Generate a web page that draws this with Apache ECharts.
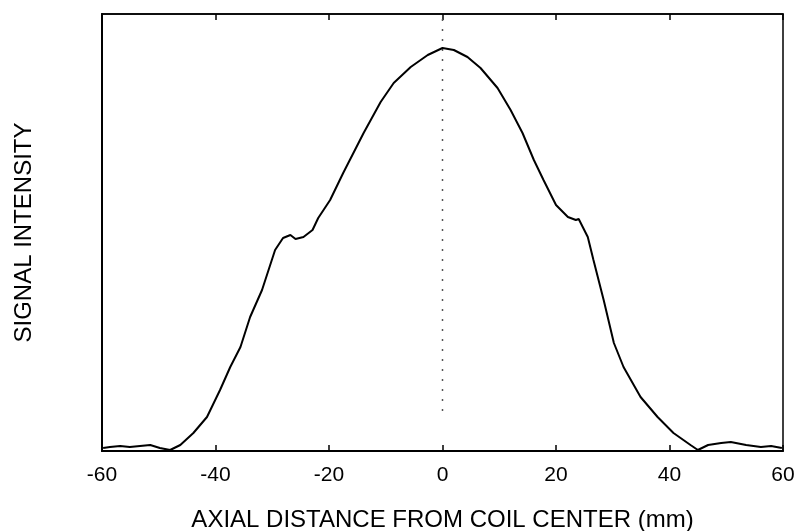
<!DOCTYPE html>
<html>
<head>
<meta charset="utf-8">
<script src="https://cdn.jsdelivr.net/npm/echarts@6/dist/echarts.min.js"></script>
<style>
html, body { margin: 0; padding: 0; background: #fff; }
#chart { width: 801px; height: 531px; }
</style>
</head>
<body>
<div id="chart"></div>
<script>
// axial position (mm) and signal intensity (arbitrary units, 0..437 full scale)
var positions = [-59.8, -58.6, -56.8, -55.1, -53.3, -51.5, -49.8, -48.0, -46.2, -43.9,
	-41.5, -39.2, -37.4, -35.6, -33.9, -31.8, -29.5, -28.1, -26.8, -25.9,
	-24.5, -22.9, -21.9, -19.8, -17.5, -13.9, -10.9, -8.6, -5.6, -2.6,
	0.0, 2.0, 4.4, 6.7, 9.7, 12.0, 14.1, 16.1, 17.8, 20.0,
	22.1, 23.5, 24.0, 25.6, 26.6, 28.4, 30.2, 31.9, 34.9, 37.9,
	40.7, 43.7, 45.0, 46.8, 49.1, 50.8, 53.5, 56.1, 57.9, 59.8];
var intensity = [3, 4, 5, 4, 5, 6, 3, 1, 6, 18,
	34, 61, 84, 104, 134, 161, 201, 213, 216, 212,
	214, 221, 233, 251, 278, 318, 349, 368, 384, 396,
	403, 401, 394, 383, 363, 341, 318, 291, 271, 246,
	234, 231, 232, 214, 191, 151, 108, 84, 54, 34,
	18, 6, 1, 6, 8, 9, 6, 4, 5, 3];
var xTicks = [-60, -40, -20, 0, 20, 40, 60];
// dotted centre marker at x = 0
var centerLine = [[0, 40], [0, 437]];

var seriesData = [];
for (var i = 0; i < positions.length; i++) {
	seriesData.push([positions[i], intensity[i]]);
}

var font = 'Liberation Sans, Arial, sans-serif';
var option = {
	animation : false,
	backgroundColor : '#fff',
	grid : {
		left : 102,
		right : 18,
		top : 14,
		bottom : 80,
		outerBoundsMode : 'none',
		show : true,
		borderColor : '#000',
		borderWidth : 1.5
	},
	xAxis : [ {
		type : 'value',
		min : xTicks[0],
		max : xTicks[xTicks.length - 1],
		interval : 20,
		name : 'AXIAL DISTANCE FROM COIL CENTER (mm)',
		nameLocation : 'middle',
		nameGap : 57,
		nameTextStyle : { fontFamily : font, fontSize : 24, color : '#000' },
		axisLine : { onZero : false, lineStyle : { color : '#000', width : 2 } },
		axisTick : { inside : true, length : 6, lineStyle : { color : '#000', width : 1.5 } },
		axisLabel : { fontFamily : font, fontSize : 21, color : '#000', margin : 14 },
		splitLine : { show : false }
	}, {
		type : 'value',
		position : 'top',
		min : xTicks[0],
		max : xTicks[xTicks.length - 1],
		interval : 20,
		axisLine : { onZero : false, lineStyle : { color : '#000', width : 1.5 } },
		axisTick : { inside : true, length : 6, lineStyle : { color : '#000', width : 1.5 } },
		axisLabel : { show : false },
		splitLine : { show : false }
	} ],
	yAxis : {
		type : 'value',
		min : 0,
		max : 437,
		name : 'SIGNAL INTENSITY',
		nameLocation : 'middle',
		nameGap : 66,
		nameTextStyle : { fontFamily : font, fontSize : 24, color : '#000' },
		axisLine : { show : true, onZero : false, lineStyle : { color : '#000', width : 2 } },
		axisTick : { show : false },
		axisLabel : { show : false },
		splitLine : { show : false }
	},
	series : [ {
		type : 'line',
		data : centerLine,
		showSymbol : false,
		silent : true,
		z : 1,
		lineStyle : { color : '#555', width : 1.5, type : [2, 8] }
	}, {
		type : 'line',
		data : seriesData,
		showSymbol : false,
		smooth : false,
		z : 3,
		lineStyle : { color : '#000', width : 2 }
	} ]
};

var chart = echarts.init(document.getElementById('chart'));
chart.setOption(option);
</script>
</body>
</html>
